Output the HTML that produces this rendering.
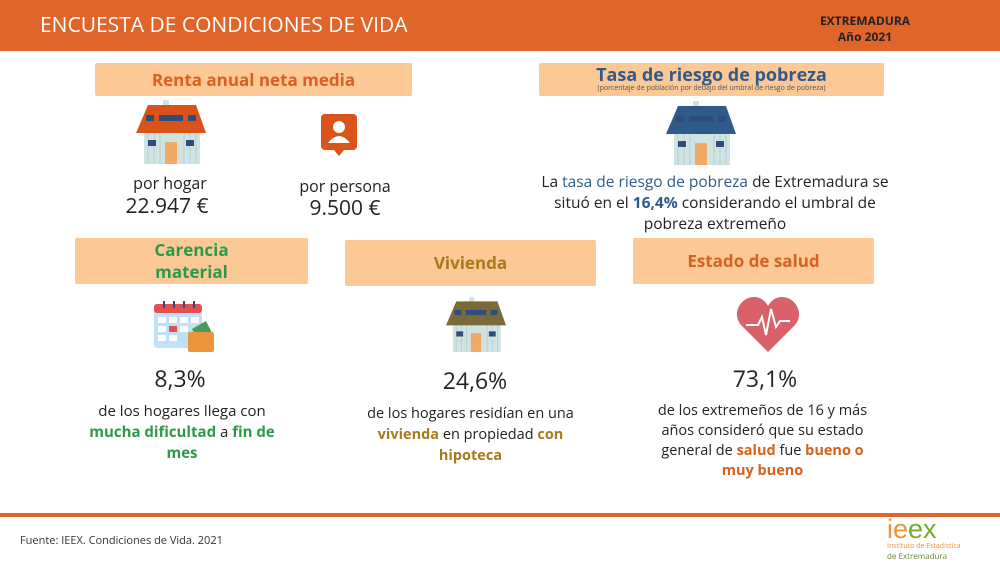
<!DOCTYPE html>
<html><head><meta charset="utf-8"><style>
*{margin:0;padding:0;box-sizing:border-box}
body{width:1000px;height:567px;background:#fff;position:relative;overflow:hidden;font-family:"Open Sans","Liberation Sans","DejaVu Sans",sans-serif;color:#222}
.a{position:absolute}
.box{position:absolute;background:#fbc896;border-radius:2px;text-align:center;font-weight:bold}
.c{text-align:center}
.o{color:#d9601f;font-weight:bold}
.g{color:#2a9a4a;font-weight:bold}
.b{color:#2f5a8a;font-weight:bold}
.br{color:#a87a1a;font-weight:bold}
</style></head><body>
<svg width="0" height="0" style="position:absolute"><defs>
<g id="house">
<rect x="27" y="0" width="6" height="6" fill="#cfe3e3"/>
<rect x="8" y="30" width="56" height="34" fill="#cfe3e3"/>
<g stroke="#b8d0d0" stroke-width="1"><line x1="12" y1="30" x2="12" y2="64"/><line x1="18" y1="30" x2="18" y2="64"/><line x1="24" y1="30" x2="24" y2="64"/><line x1="48" y1="30" x2="48" y2="64"/><line x1="54" y1="30" x2="54" y2="64"/><line x1="60" y1="30" x2="60" y2="64"/></g>
<polygon points="12,5 60,5 70,33 0,33" class="roof"/>
<rect x="10" y="15" width="8" height="6" fill="#2f4d7a"/><rect x="23" y="15" width="24" height="6" fill="#2f4d7a"/><rect x="52" y="15" width="8" height="6" fill="#2f4d7a"/>
<rect x="12" y="40" width="8" height="6" fill="#2f4d7a"/><rect x="50" y="40" width="8" height="6" fill="#2f4d7a"/>
<rect x="29" y="42" width="12" height="22" fill="#f2a966"/>
</g></defs></svg>

<div class="a" style="left:0;top:0;width:1000px;height:51px;background:#e0652a"></div>
<div class="a" style="left:40px;top:11px;color:#fff;font-size:21px">ENCUESTA DE CONDICIONES DE VIDA</div>
<div class="a c" style="left:800px;top:13px;width:130px;font-size:12px;font-weight:bold;color:#222;line-height:16px">EXTREMADURA<br>Año 2021</div>

<div class="box" style="left:95px;top:63px;width:317px;height:33px;font-size:17px;line-height:33px;color:#d9601f">Renta anual neta media</div>
<svg class="a" style="left:136px;top:100px" width="70" height="64"><use href="#house" style="fill:#d9531a"/></svg>
<div class="a c" style="left:110px;top:172px;width:120px;font-size:16px">por hogar</div>
<div class="a c" style="left:97px;top:192px;width:140px;font-size:21px">22.947 €</div>
<svg class="a" style="left:321px;top:114px" width="36" height="42"><rect x="0" y="0" width="36" height="36" rx="4" fill="#d9531a"/><polygon points="13,36 23,36 18,42" fill="#d9531a"/><circle cx="18" cy="13" r="6" fill="#fff"/><path d="M7 29 Q18 15 29 29 Z" fill="#fff"/></svg>
<div class="a c" style="left:280px;top:175px;width:130px;font-size:16px">por persona</div>
<div class="a c" style="left:280px;top:194px;width:130px;font-size:21px">9.500 €</div>

<div class="box" style="left:539px;top:63px;width:345px;height:33px;color:#2f5a8a">
<div style="font-size:18px;line-height:20px;margin-top:2px">Tasa de riesgo de pobreza</div>
<div style="font-size:7px;font-weight:normal;color:#555;line-height:8px">(porcentaje de población por debajo del umbral de riesgo de pobreza)</div></div>
<svg class="a" style="left:666px;top:101px" width="70" height="64"><use href="#house" style="fill:#2f5a8a"/></svg>
<div class="a c" style="left:530px;top:171px;width:370px;font-size:15.5px;line-height:21px">La <span style="color:#2f5a8a">tasa de riesgo de pobreza</span> de Extremadura se situó en el <span class="b">16,4%</span> considerando el umbral de pobreza extremeño</div>

<div class="box" style="left:75px;top:238px;width:233px;height:46px;font-size:17px;line-height:22px;color:#2a9a4a;padding-top:1px">Carencia<br>material</div>
<svg class="a" style="left:154px;top:299px" width="60" height="54"><rect x="0" y="5" width="48" height="44" rx="3" fill="#bfe0f5"/><rect x="0" y="5" width="48" height="9" rx="3" fill="#e05050"/><g stroke="#2f4d7a" stroke-width="2"><line x1="10" y1="2" x2="10" y2="9"/><line x1="20" y1="2" x2="20" y2="9"/><line x1="30" y1="2" x2="30" y2="9"/><line x1="40" y1="2" x2="40" y2="9"/></g><g fill="#fff"><rect x="4" y="18" width="8" height="6"/><rect x="15" y="18" width="8" height="6"/><rect x="26" y="18" width="8" height="6"/><rect x="37" y="18" width="8" height="6"/><rect x="4" y="27" width="8" height="6"/><rect x="26" y="27" width="8" height="6"/><rect x="4" y="36" width="8" height="6"/><rect x="15" y="36" width="8" height="6"/></g><rect x="15" y="27" width="8" height="6" fill="#e05050"/><polygon points="38,30 52,22 60,38 44,42" fill="#4a9a5a"/><rect x="34" y="33" width="26" height="20" rx="2" fill="#e9953a"/></svg>
<div class="a c" style="left:130px;top:362px;width:100px;font-size:23px">8,3%</div>
<div class="a c" style="left:82px;top:401px;width:200px;font-size:15px;line-height:21px">de los hogares llega con <span class="g">mucha dificultad</span> a <span class="g">fin de mes</span></div>

<div class="box" style="left:345px;top:240px;width:251px;height:46px;font-size:17px;line-height:46px;color:#a87a1a">Vivienda</div>
<svg class="a" style="left:446px;top:297px" width="60" height="55" viewBox="0 0 70 64"><use href="#house" style="fill:#7a6a3a"/></svg>
<div class="a c" style="left:420px;top:364px;width:110px;font-size:23px">24,6%</div>
<div class="a c" style="left:350px;top:403px;width:241px;font-size:14.5px;line-height:21px">de los hogares residían en una <span class="br">vivienda</span> en propiedad <span class="br">con hipoteca</span></div>

<div class="box" style="left:633px;top:238px;width:241px;height:46px;font-size:17px;line-height:46px;color:#d9601f">Estado de salud</div>
<svg class="a" style="left:736px;top:297px" width="64" height="56"><path d="M32 55 L5 28 C-5 16 5 0 18 0 C25 0 29 4 32 9 C35 4 39 0 46 0 C59 0 69 16 59 28 Z" fill="#d9616a"/><polyline points="10,28 22,28 26,20 30,38 35,12 40,30 44,24 54,24" fill="none" stroke="#fff" stroke-width="2"/></svg>
<div class="a c" style="left:710px;top:362px;width:110px;font-size:23px">73,1%</div>
<div class="a c" style="left:655px;top:401px;width:215px;font-size:14.5px;line-height:20px">de los extremeños de 16 y más años consideró que su estado general de <span class="o">salud</span> fue <span class="o">bueno o muy bueno</span></div>

<div class="a" style="left:0;top:513px;width:1000px;height:4px;background:#e0652a"></div>
<div class="a" style="left:20px;top:533px;font-size:11px;color:#333">Fuente: IEEX. Condiciones de Vida. 2021</div>
<div class="a" style="left:887px;top:515px;font-size:27px;line-height:28px;font-family:'Liberation Sans',sans-serif"><span style="color:#e9953a">ie</span><span style="color:#7aaa2a">ex</span></div>
<div class="a" style="left:887px;top:543px;font-size:7px;color:#e9953a;line-height:8px">Instituto de Estadística</div>
<div class="a" style="left:887px;top:552px;font-size:8px;color:#6a8a3a;line-height:9px">de Extremadura</div>
</body></html>
